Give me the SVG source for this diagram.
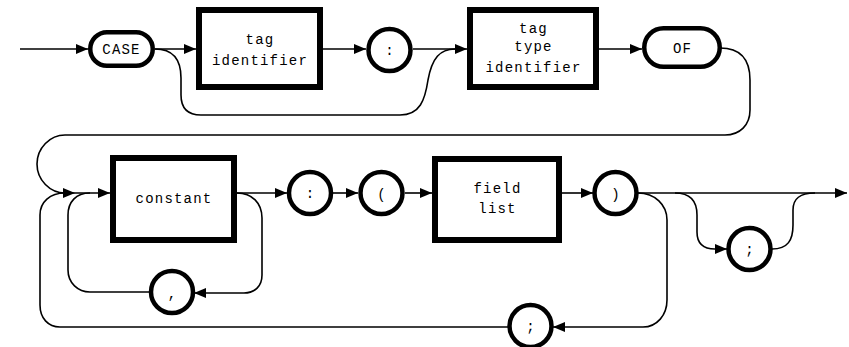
<svg xmlns="http://www.w3.org/2000/svg" width="849" height="347" viewBox="0 0 849 347">
<style>
.box{fill:#fff;stroke:#000;stroke-width:6}
.pill{fill:#fff;stroke:#000;stroke-width:4.5}
.circ{fill:#fff;stroke:#000;stroke-width:4.5}
.t{font-family:"Liberation Mono","DejaVu Sans Mono",monospace;font-size:14px;letter-spacing:1.2px;text-anchor:middle;fill:#000}
.c{fill:none;stroke:#000;stroke-width:1.6}
</style>
<defs>
<marker id="ah" markerUnits="userSpaceOnUse" markerWidth="13" markerHeight="11" refX="12" refY="5" orient="auto">
<path d="M0,0 L12,5 L0,10 z" fill="#000"/>
</marker>
</defs>
<g id="connectors">
<path class="c" d="M20,49 L88,49" marker-end="url(#ah)"/>
<path class="c" d="M155,49 L196,49" marker-end="url(#ah)"/>
<path class="c" d="M155,49 C172,49 181,58 181,78 L181,95 Q181,115 201,115 L400,115 C420,115 425,100 428,80 C432,58 440,49 455,49"/>
<path class="c" d="M323,49 L366,49" marker-end="url(#ah)"/>
<path class="c" d="M413,49 L467,49" marker-end="url(#ah)"/>
<path class="c" d="M599,49 L642,49" marker-end="url(#ah)"/>
<path class="c" d="M720,48 C740,48 750,58 750,80 L750,110 C750,125 740,135 725,135 L65,135 C50,135 37,148 37,164 C37,180 50,193 65,193 L75,193" marker-end="url(#ah)"/>
<path class="c" d="M508,327 L60,327 C48,327 40,318 40,305 L40,215 C40,202 50,193 65,193"/>
<path class="c" d="M75,193 L110,193" marker-end="url(#ah)"/>
<path class="c" d="M237,193 C252,193 262,203 262,218 L262,275 C262,286 255,293 244,293 L194,293" marker-end="url(#ah)"/>
<path class="c" d="M150,292 L90,292 C78,292 68,283 68,270 L68,215 C68,202 76,193 90,193"/>
<path class="c" d="M237,193 L287,193" marker-end="url(#ah)"/>
<path class="c" d="M333,193 L358,193" marker-end="url(#ah)"/>
<path class="c" d="M405,193 L432,193" marker-end="url(#ah)"/>
<path class="c" d="M562,193 L593,193" marker-end="url(#ah)"/>
<path class="c" d="M638,193 L847,193" marker-end="url(#ah)"/>
<path class="c" d="M675,193 C690,193 697,200 697,215 L697,232 C697,243 703,249 715,249 L727,249" marker-end="url(#ah)"/>
<path class="c" d="M772,249 C788,249 793,240 793,225 L793,210 C793,198 800,193 815,193"/>
<path class="c" d="M638,193 C655,193 667,205 667,220 L667,300 C667,315 657,327 643,327 L553,327" marker-end="url(#ah)"/>
</g>
<g id="n-case"><rect class="pill" x="90.25" y="32.25" width="62.5" height="33.5" rx="16.75"/><text class="t" x="121.5" y="54">CASE</text></g>
<g id="n-tagid"><rect class="box" x="199" y="10" width="121" height="77"/><text class="t" x="260" y="44">tag</text><text class="t" x="260" y="65">identifier</text></g>
<g id="n-colon1"><circle class="circ" cx="389.5" cy="50" r="21"/><text class="t" x="390" y="55">:</text></g>
<g id="n-tagtype"><rect class="box" x="470" y="10" width="126" height="77"/><text class="t" x="533.5" y="33">tag</text><text class="t" x="533.5" y="51">type</text><text class="t" x="533.5" y="72">identifier</text></g>
<g id="n-of"><rect class="pill" x="644.25" y="28.25" width="75.5" height="38.5" rx="19.25"/><text class="t" x="682.5" y="53">OF</text></g>
<g id="n-constant"><rect class="box" x="113" y="158" width="121" height="82"/><text class="t" x="174" y="203">constant</text></g>
<g id="n-comma"><circle class="circ" cx="172" cy="292" r="21"/><text class="t" x="172.5" y="298">,</text></g>
<g id="n-colon2"><circle class="circ" cx="310" cy="193" r="21"/><text class="t" x="310.5" y="198">:</text></g>
<g id="n-lparen"><circle class="circ" cx="381.5" cy="193" r="21"/><text class="t" x="382" y="199">(</text></g>
<g id="n-fieldlist"><rect class="box" x="435" y="159" width="124" height="81"/><text class="t" x="497.5" y="193">field</text><text class="t" x="497.5" y="213">list</text></g>
<g id="n-rparen"><circle class="circ" cx="615.5" cy="193" r="21"/><text class="t" x="616" y="199">)</text></g>
<g id="n-semi1"><circle class="circ" cx="749.5" cy="249" r="21"/><text class="t" x="750" y="254">;</text></g>
<g id="n-semi2"><circle class="circ" cx="530.5" cy="326" r="21"/><text class="t" x="531" y="331">;</text></g>
</svg>
